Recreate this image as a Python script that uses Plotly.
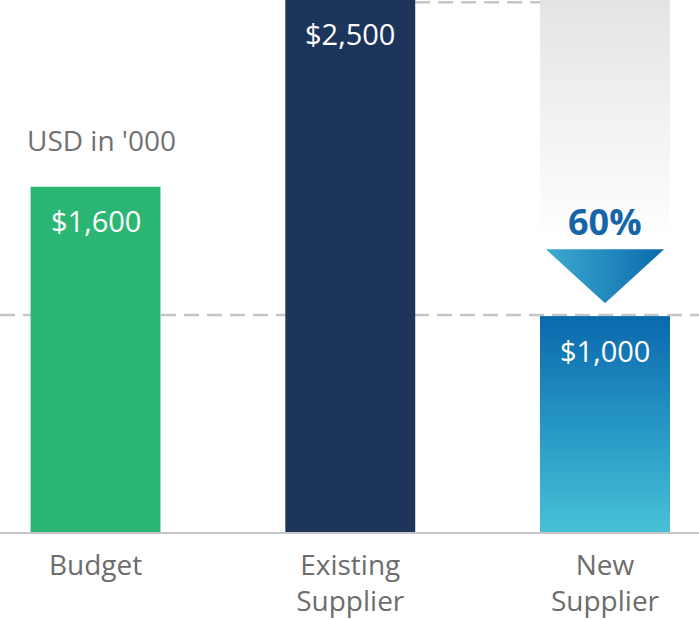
import plotly.graph_objects as go

categories = ["Budget", "Existing<br>Supplier", "New<br>Supplier"]
values = [1600, 2500, 1000]
value_labels = ["$1,600", "$2,500", "$1,000"]
bar_colors = ["#2bb673", "#1e355b", "#1a86c0"]
unit_label = "USD in '000"

x = [0, 1, 2]
bar_w = 0.51
y_top = 2465
grey = "#c6c6ca"
font = "Open Sans"

saving = 1 - values[2] / values[1]

fig = go.Figure()
fig.add_trace(go.Bar(x=x, y=values, width=bar_w,
                     marker=dict(color=bar_colors, line_width=0),
                     hoverinfo="skip"))

# gradient fill on the new supplier bar
nx, ny = x[2], values[2]
x0, x1 = nx - bar_w / 2, nx + bar_w / 2
fig.add_trace(go.Scatter(
    x=[x0, x1, x1, x0, x0], y=[0, 0, ny, ny, 0],
    fill="toself", mode="lines", line=dict(width=0, color="rgba(0,0,0,0)"),
    fillgradient=dict(type="vertical", start=0, stop=ny,
                      colorscale=[[0, "#48c1d6"], [0.5, "#2596c4"], [1, "#0b68ad"]]),
    hoverinfo="skip"))

# grey fade showing the old cost level
fade_bottom = 1350
fig.add_trace(go.Scatter(
    x=[x0, x1, x1, x0, x0], y=[fade_bottom, fade_bottom, y_top, y_top, fade_bottom],
    fill="toself", mode="lines", line=dict(width=0, color="rgba(0,0,0,0)"),
    fillgradient=dict(type="vertical", start=fade_bottom, stop=y_top,
                      colorscale=[[0, "rgba(255,255,255,1)"], [1, "#e4e4e4"]]),
    hoverinfo="skip"))

# down arrow
tri_half = 0.232
tri_top, tri_tip = 1310, 1060
fig.add_trace(go.Scatter(
    x=[nx - tri_half, nx + tri_half, nx, nx - tri_half],
    y=[tri_top, tri_top, tri_tip, tri_top],
    fill="toself", mode="lines", line=dict(width=0, color="rgba(0,0,0,0)"),
    fillgradient=dict(type="horizontal", start=nx - tri_half, stop=nx + tri_half,
                      colorscale=[[0, "#3dabd0"], [1, "#0b6aad"]]),
    hoverinfo="skip"))

# dashed reference lines
fig.add_shape(type="line", xref="paper", x0=0, x1=1, y0=ny + 6, y1=ny + 6,
              line=dict(color=grey, width=2.5, dash="15px,8px"), layer="below")
fig.add_shape(type="line", x0=x[1] + bar_w / 2, x1=x[2] - bar_w / 2,
              yref="paper", y0=0.996, y1=0.996,
              line=dict(color=grey, width=2.5, dash="15px,8px"), layer="below")

# value labels
for xi, v, lab in zip(x, values, value_labels):
    fig.add_annotation(x=xi, y=min(v, y_top), text=lab, showarrow=False,
                       yanchor="middle", yshift=-34 if v < y_top else -33,
                       font=dict(family=font, size=29, color="white"))

fig.add_annotation(x=nx, y=1440, text=f"{saving:.0%}", showarrow=False,
                   font=dict(family=font, size=36, color="#1565a8", weight="bold"))

fig.add_annotation(xref="paper", yref="paper", x=25 / 699, y=0.737,
                   xanchor="left", yanchor="middle", text=unit_label, showarrow=False,
                   font=dict(family=font, size=28, color="#717171"))

fig.update_layout(
    width=699, height=620,
    margin=dict(l=0, r=0, t=0, b=88),
    plot_bgcolor="white", paper_bgcolor="white",
    showlegend=False,
    font=dict(family=font),
)
fig.update_xaxes(range=[-0.375, 2.369], tickvals=x, ticktext=categories,
                 showgrid=False, zeroline=False, showline=True,
                 linecolor=grey, linewidth=2, ticklabelstandoff=7,
                 tickfont=dict(family=font, size=28, color="#6d6d6d"))
fig.update_yaxes(range=[0, y_top], visible=False, showgrid=False)

fig.write_html("out.html", config={"displayModeBar": False},
               post_script="document.body.style.margin='0';")
